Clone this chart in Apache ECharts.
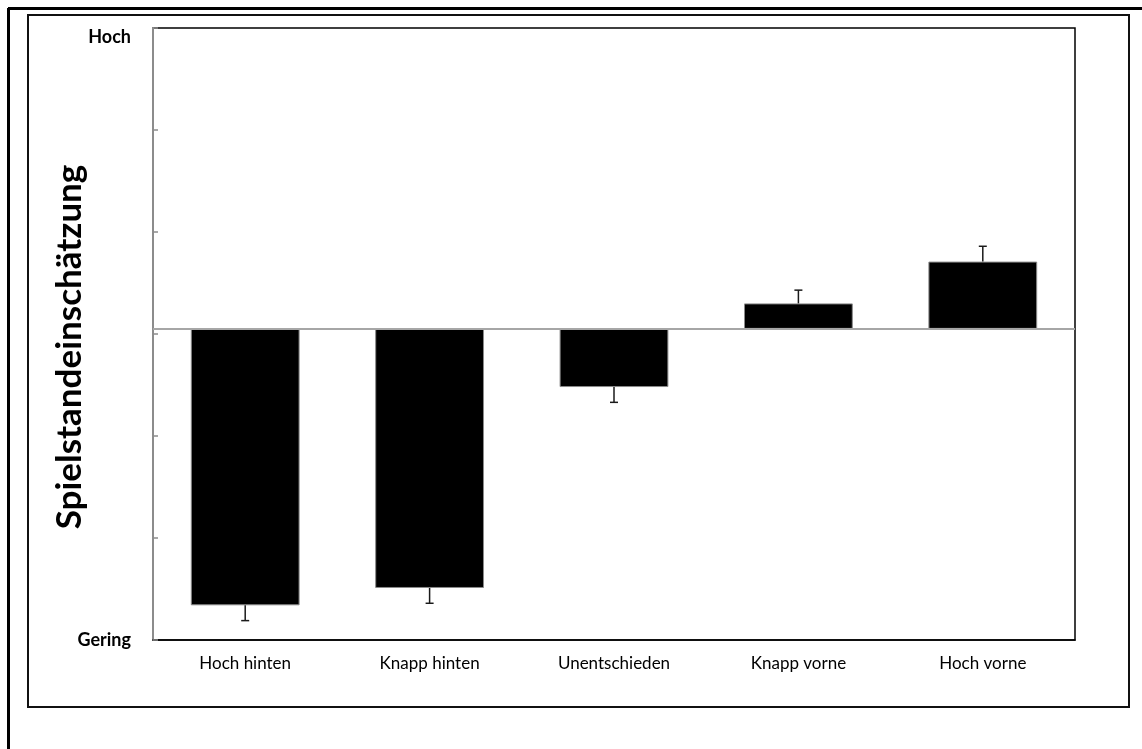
<!DOCTYPE html>
<html>
<head>
<meta charset="utf-8">
<script src="https://cdn.jsdelivr.net/npm/echarts@6/dist/echarts.min.js"></script>
<style>
  html, body { margin: 0; padding: 0; background: #fff; }
  #chart { width: 1142px; height: 749px; }
</style>
</head>
<body>
<div id="chart"></div>
<script>
// Game-state estimate per condition (means with one-sided error)
const categories = ['Hoch hinten', 'Knapp hinten', 'Unentschieden', 'Knapp vorne', 'Hoch vorne'];
const means = [-2.71, -2.54, -0.57, 0.25, 0.66];
const errors = [0.15, 0.15, 0.15, 0.13, 0.15];
const yTickLabels = { top: 'Hoch', bottom: 'Gering' };
const yTitle = 'Spielstandeinschätzung';

const FONT = 'Lato, "Open Sans", sans-serif';

const chart = echarts.init(document.getElementById('chart'), null, { renderer: 'canvas' });

// error whisker pointing away from zero
const errData = means.map((m, i) => [i, m, m >= 0 ? m + errors[i] : m - errors[i]]);

chart.setOption({
  animation: false,
  backgroundColor: '#fff',
  grid: {
    left: 153, right: 67, top: 28, bottom: 109,
    show: true, borderColor: '#000', borderWidth: 1.5, backgroundColor: 'transparent'
  },
  graphic: [
    // outer frame (top and left edges visible)
    { type: 'line', shape: { x1: 8, y1: 8.5, x2: 1142, y2: 8.5 }, style: { stroke: '#000', lineWidth: 3 } },
    { type: 'line', shape: { x1: 8.5, y1: 8, x2: 8.5, y2: 749 }, style: { stroke: '#000', lineWidth: 3 } },
    // inner frame
    { type: 'rect', shape: { x: 28, y: 15, width: 1101, height: 692 },
      style: { fill: 'none', stroke: '#111', lineWidth: 2 } }
  ],
  xAxis: {
    type: 'category',
    data: categories,
    axisLine: { show: true, onZero: false, lineStyle: { color: '#000', width: 1.5 } },
    axisTick: { show: false },
    axisLabel: { color: '#000', fontFamily: FONT, fontSize: 17, margin: 15 }
  },
  yAxis: [
    {
      // visible scale: ticks only, end labels
      type: 'value', min: -3, max: 3, interval: 1, position: 'left',
      axisLine: { show: true, lineStyle: { color: '#8c8c8c', width: 2 } },
      axisTick: { show: true, inside: true, length: 5, lineStyle: { color: '#8c8c8c', width: 1.5 } },
      splitLine: { show: false },
      axisLabel: {
        color: '#000', fontFamily: FONT, fontWeight: 'bold', fontSize: 18, margin: 22,
        verticalAlignMaxLabel: 'top',
        formatter: v => v === 3 ? yTickLabels.top : (v === -3 ? yTickLabels.bottom : '')
      },
      name: yTitle,
      nameLocation: 'middle',
      nameGap: 66,
      nameRotate: 90,
      nameMoveOverlap: false,
      nameTextStyle: { color: '#000', fontFamily: FONT, fontWeight: 'bold', fontSize: 35, padding: [0, 26, 0, 0] }
    },
    {
      // data scale, zero sits slightly above the middle tick
      type: 'value', min: -3.05, max: 2.95, show: false,
      splitLine: { show: false }
    }
  ],
  series: [
    {
      type: 'bar',
      yAxisIndex: 1,
      data: means,
      barWidth: '59%',
      itemStyle: { color: '#000', borderColor: '#8a8a8a', borderWidth: 1 },
      markLine: {
        silent: true, symbol: 'none', label: { show: false },
        lineStyle: { color: '#a6a6a6', width: 2, type: 'solid' },
        data: [{ yAxis: 0 }]
      },
      z: 2
    },
    {
      type: 'custom',
      yAxisIndex: 1,
      data: errData,
      z: 3,
      renderItem: (params, api) => {
        const x = api.value(0);
        const a = api.coord([x, api.value(1)]);
        const b = api.coord([x, api.value(2)]);
        const cap = 4;
        const style = { stroke: '#1a1a1a', lineWidth: 1.5 };
        return {
          type: 'group',
          children: [
            { type: 'line', shape: { x1: a[0], y1: a[1], x2: b[0], y2: b[1] }, style },
            { type: 'line', shape: { x1: b[0] - cap, y1: b[1], x2: b[0] + cap, y2: b[1] }, style }
          ]
        };
      }
    }
  ]
});
</script>
</body>
</html>
